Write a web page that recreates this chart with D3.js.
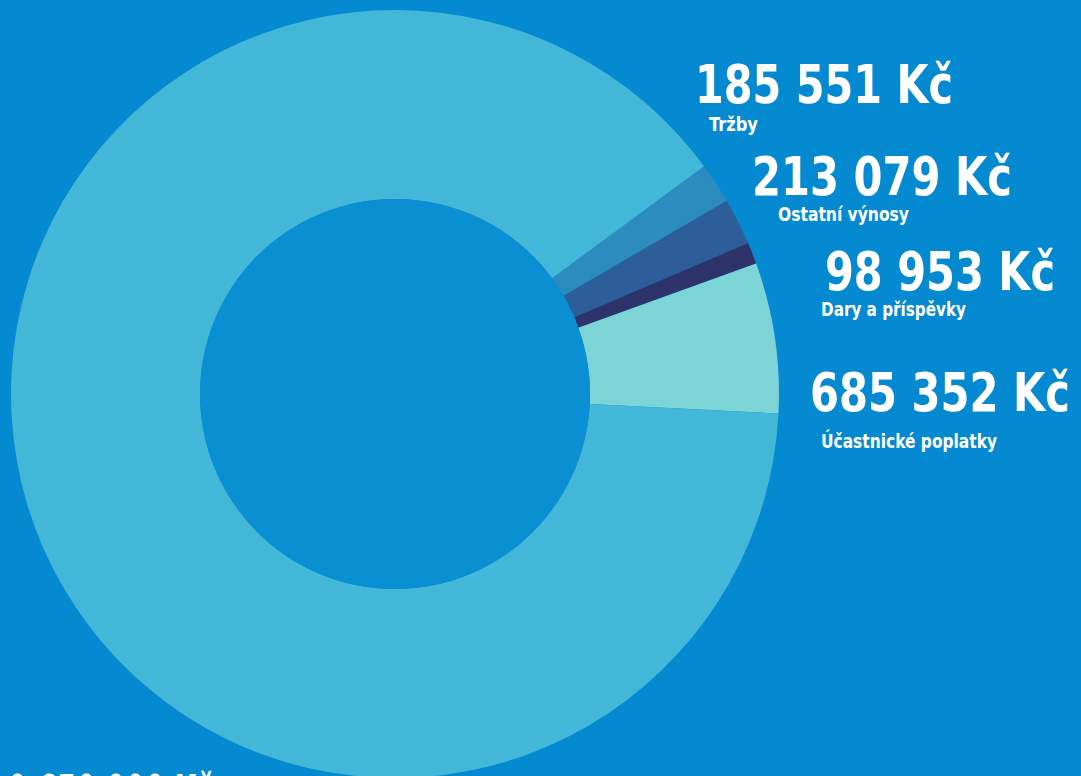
<!DOCTYPE html>
<html>
<head>
	<meta charset="utf-8">
	<title>Výnosy</title>
	<script src="https://cdn.jsdelivr.net/npm/d3@7"></script>
<style type="text/css">
body { margin: 0; background-color: #0589d0; overflow: hidden; }
.val { font-family: "DejaVu Sans Condensed", "Liberation Sans Narrow", sans-serif; font-weight: bold; fill: #fff; }
.lab { font-family: "DejaVu Sans Condensed", "Liberation Sans Narrow", sans-serif; font-weight: bold; fill: #fff; }
</style>
</head>
<body>
<script type="text/javascript">
	var w = 1081;
	var h = 776;

	// clockwise from the top-right cut
	var categories = ["Tržby", "Ostatní výnosy", "Dary a příspěvky", "Účastnické poplatky", "Dotace"];
	var values = [185551, 213079, 98953, 685352, 9650000];
	var valueLabels = ["185 551 Kč", "213 079 Kč", "98 953 Kč", "685 352 Kč", "9 650 000 Kč"];
	var colors = ["#2d8cbe", "#2e5e9a", "#2f336c", "#7cd4d7", "#43b7d7"];

	var data = categories.map(function(c, i){ return {name: c, value: values[i], label: valueLabels[i], color: colors[i]}; });

	var svg = d3.select("body").append("svg").attr("width", w).attr("height", h);

	var cx = 395, cy = 394, rOut = 384, rIn = 195;
	var start = 53.6 * Math.PI / 180;

	var pie = d3.pie().sort(null).value(function(d){ return d.value; })
		.startAngle(start).endAngle(start + 2 * Math.PI);
	var arc = d3.arc().innerRadius(rIn).outerRadius(rOut);

	var g = svg.append("g").attr("transform", "translate(" + cx + "," + cy + ")");
	g.selectAll("path").data(pie(data)).enter().append("path")
		.attr("d", arc)
		.attr("fill", function(d){ return d.data.color; });

	g.append("circle").attr("r", rIn).attr("fill", "#0a8fd3");

	// label positions and widths, same order as categories
	var pos = [
		{x: 695, y: 103, tw: 258, lx: 709, ly: 131, lw: 49},
		{x: 752, y: 195, tw: 260, lx: 778, ly: 221, lw: 131},
		{x: 825, y: 290, tw: 230, lx: 821, ly: 316, lw: 145},
		{x: 810, y: 411, tw: 260, lx: 821, ly: 448, lw: 176},
		{x: 8, y: 813, tw: 205, lx: 8, ly: 840, lw: 60}
	];

	var labels = svg.selectAll("g.lbl").data(data).enter().append("g").attr("class", "lbl");
	labels.append("text").attr("class", "val")
		.attr("x", function(d, i){ return pos[i].x; })
		.attr("y", function(d, i){ return pos[i].y; })
		.attr("font-size", 54)
		.attr("textLength", function(d, i){ return pos[i].tw; })
		.attr("lengthAdjust", "spacingAndGlyphs")
		.text(function(d){ return d.label; });
	labels.append("text").attr("class", "lab")
		.attr("x", function(d, i){ return pos[i].lx; })
		.attr("y", function(d, i){ return pos[i].ly; })
		.attr("font-size", 19)
		.attr("textLength", function(d, i){ return pos[i].lw; })
		.attr("lengthAdjust", "spacingAndGlyphs")
		.text(function(d){ return d.name; });
</script>
</body>
</html>
